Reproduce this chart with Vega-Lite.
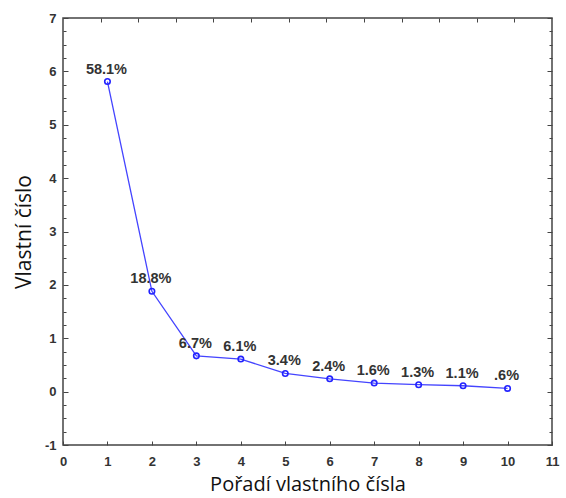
{
  "$schema": "https://vega.github.io/schema/vega-lite/v6.json",
  "autosize": "none",
  "padding": {"left": 63, "top": 18, "right": 14, "bottom": 53},
  "width": 489,
  "height": 427,
  "background": "white",
  "config": {
    "view": {"stroke": "#444", "strokeWidth": 1.5},
    "axis": {"domain": false, "grid": false, "tickColor": "#444", "labelFont": "Liberation Sans", "labelFontWeight": "bold", "labelFontSize": 13, "labelColor": "#333", "titleFont": "Open Sans", "titleFontWeight": "normal", "titleFontSize": 20, "titleColor": "#111"}
  },
  "data": {"values": [
    {"k": 1, "v": 5.81, "p": "58.1%"},
    {"k": 2, "v": 1.88, "p": "18.8%"},
    {"k": 3, "v": 0.67, "p": "6.7%"},
    {"k": 4, "v": 0.61, "p": "6.1%"},
    {"k": 5, "v": 0.34, "p": "3.4%"},
    {"k": 6, "v": 0.24, "p": "2.4%"},
    {"k": 7, "v": 0.16, "p": "1.6%"},
    {"k": 8, "v": 0.13, "p": "1.3%"},
    {"k": 9, "v": 0.11, "p": "1.1%"},
    {"k": 10, "v": 0.06, "p": ".6%"}
  ]},
  "layer": [
    {
      "mark": {"type": "line", "color": "#4444ff", "strokeWidth": 1.3},
      "encoding": {
        "x": {"field": "k", "type": "quantitative", "scale": {"domain": [0, 11], "nice": false, "zero": false},
          "axis": {"orient": "bottom", "title": "Pořadí vlastního čísla", "values": [0,1,2,3,4,5,6,7,8,9,10,11], "tickSize": -4, "labelPadding": 14, "titlePadding": 6, "titleFontSize": 20, "labelFlush": false, "labelOverlap": false}},
        "y": {"field": "v", "type": "quantitative", "scale": {"domain": [-1, 7], "nice": false, "zero": false},
          "axis": {"orient": "left", "title": "Vlastní číslo", "titleFontSize": 21, "values": [-1,-0.75,-0.5,-0.25,0,0.25,0.5,0.75,1,1.25,1.5,1.75,2,2.25,2.5,2.75,3,3.25,3.5,3.75,4,4.25,4.5,4.75,5,5.25,5.5,5.75,6,6.25,6.5,6.75,7],
            "labelExpr": "datum.value % 1 === 0 ? '' + datum.value : ''",
            "tickSize": {"condition": {"test": "datum.value % 1 === 0", "value": -5}, "value": -3},
            "labelPadding": 12, "titlePadding": 10, "labelFlush": false, "labelOverlap": false}}
      }
    },
    {
      "mark": {"type": "point", "shape": "circle", "filled": false, "color": "#2222ff", "strokeWidth": 1.6, "size": 30, "opacity": 1},
      "encoding": {
        "x": {"field": "k", "type": "quantitative",
          "axis": {"orient": "top", "title": null, "labels": false, "values": [0.8462,1.6923,2.5385,3.3846,4.2308,5.0769,5.9231,6.7692,7.6154,8.4615,9.3077,10.1538], "tickSize": -4}},
        "y": {"field": "v", "type": "quantitative",
          "axis": {"orient": "right", "title": null, "labels": false, "values": [-1,-0.75,-0.5,-0.25,0,0.25,0.5,0.75,1,1.25,1.5,1.75,2,2.25,2.5,2.75,3,3.25,3.5,3.75,4,4.25,4.5,4.75,5,5.25,5.5,5.75,6,6.25,6.5,6.75,7],
            "tickSize": {"condition": {"test": "datum.value % 1 === 0", "value": -5}, "value": -3}}}
      }
    },
    {
      "mark": {"type": "text", "font": "Liberation Sans", "fontWeight": "bold", "fontSize": 14.5, "color": "#333", "baseline": "bottom", "dy": -5, "dx": -1},
      "encoding": {
        "x": {"field": "k", "type": "quantitative", "axis": null},
        "y": {"field": "v", "type": "quantitative", "axis": null},
        "text": {"field": "p"}
      }
    }
  ],
  "resolve": {"axis": {"x": "independent", "y": "independent"}}
}
